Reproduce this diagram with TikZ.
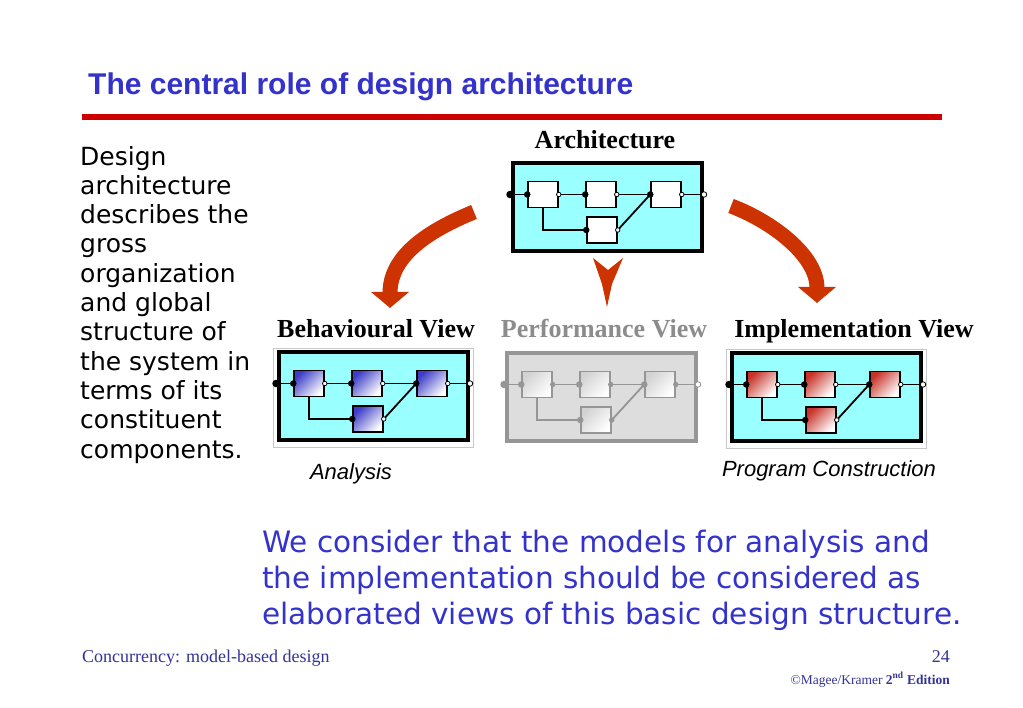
\documentclass[tikz,border=0pt]{standalone}
\usepackage{fontspec}
\setmainfont{Liberation Serif}
\newfontfamily\arialfont{Liberation Sans}
\newfontfamily\comicfont{DejaVu Sans}
\usetikzlibrary{arrows.meta}
\definecolor{TitleBlue}{RGB}{51,51,204}
\definecolor{RuleRed}{RGB}{204,0,0}
\definecolor{ArrowRed}{RGB}{204,51,0}
\definecolor{BoxCyan}{RGB}{153,255,255}
\definecolor{PerfGrey}{RGB}{221,221,221}
\definecolor{PerfInk}{RGB}{150,150,150}
\definecolor{CompBlue}{RGB}{60,60,200}
\definecolor{CompRed}{RGB}{200,50,40}
\definecolor{FootBlue}{RGB}{51,51,153}
\definecolor{FrameGrey}{RGB}{200,200,200}

\begin{document}
\begin{tikzpicture}[
  x=1pt,y=-1pt,
  viewbox/.style = {draw=\ink,fill=\fil,line width=4pt,minimum width=189pt,minimum height=88pt,inner sep=0pt},
  comp/.style = {draw=\ink,line width=1.5pt,minimum width=30pt,minimum height=26pt,inner sep=0pt,
                 top color=\shadecol,bottom color=white,shading angle=45},
  wire/.style = {draw=\ink,line width=1.8pt},
  inpin/.style = {circle,fill=\ink,inner sep=0pt,minimum size=6.5pt},
  outpin/.style = {circle,draw=\ink,fill=\hole,line width=0.8pt,inner sep=0pt,minimum size=4.5pt},
  viewlabel/.style = {font=\bfseries\fontsize{26}{30}\selectfont,anchor=base,inner sep=0pt},
  uselabel/.style = {font=\arialfont\itshape\fontsize{22}{26}\selectfont,anchor=base,inner sep=0pt},
  bigarrow/.style = {draw=ArrowRed,line width=15pt,-{Triangle[width=37pt,length=16pt]}}
  ]
  \useasboundingbox[fill=white] (0,0) rectangle (1023,708);
  % heading
  \node[font=\arialfont\bfseries\fontsize{30}{36}\selectfont,text=TitleBlue,anchor=base west,inner sep=0pt]
    (title) at (88,95) {The central role of design architecture};
  \coordinate (rule-l) at (82,117);
  \coordinate (rule-r) at (942,117);
  \draw[RuleRed,line width=6pt] (rule-l) -- (rule-r);
  %
  \node[font=\comicfont\fontsize{25}{29.3}\selectfont,align=left,anchor=base west,inner sep=0pt]
    (intro) at (80,458) {Design\\architecture\\describes the\\gross\\organization\\and global\\structure of\\the system in\\terms of its\\constituent\\components.};
  % architecture and its three views
  \foreach \n/\bx/\by/\fil/\ink/\shadecol/\hole/\frm in {%
      A/511/162/BoxCyan/black/white/white/none,
      B/277/351/BoxCyan/black/CompBlue/white/FrameGrey,
      P/505/352/PerfGrey/PerfInk/gray!35/PerfInk/none,
      I/730/352/BoxCyan/black/CompRed/white/FrameGrey} {
    \begin{scope}[shift={(\bx,\by)}]
      \draw[draw=\frm,line width=0.8pt] (-4,-3) rectangle (196,96);
      \node[viewbox] (\n-box) at (96,45.5) {};
      \node[comp] (\n1) at (32,32.5) {};
      \node[comp] (\n2) at (90,32.5) {};
      \node[comp] (\n3) at (155,32.5) {};
      \node[comp] (\n4) at (91,68) {};
      \node[inpin,minimum size=7.5pt] (\n-in) at (-1,32.5) {};
      \node[outpin,fill=white,minimum size=5.5pt] (\n-out) at (193,32.5) {};
      \draw[wire] (\n-in) -- (\n1);
      \draw[wire] (\n1) -- (\n2);
      \draw[wire] (\n2) -- (\n3);
      \draw[wire] (\n3) -- (\n-out);
      \draw[wire] (\n1) |- (\n4);
      \draw[wire] (\n4.east) -- (\n3.west);
      \foreach \c in {1,...,4} {
        \node[inpin] at (\n\c.west) {};
        \node[outpin] at (\n\c.east) {};
      }
    \end{scope}
  }
  \node[viewlabel] (arch-label) at (605,149) {Architecture};
  \node[viewlabel] (beh-label) at (376,338) {Behavioural View};
  \node[viewlabel,text=gray!90] (perf-label) at (604,338) {Performance View};
  \node[viewlabel] (impl-label) at (854,338) {Implementation View};
  \node[uselabel] (beh-use) at (351,479) {Analysis};
  \node[uselabel] (impl-use) at (829,476) {Program Construction};
  % red arrows
  \coordinate (beh-tail) at (474,212);
  \coordinate (beh-tip) at (390,308);
  \coordinate (impl-tail) at (731,206);
  \coordinate (impl-tip) at (817,303);
  \draw[bigarrow] (beh-tail) .. controls (430,230) and (390,255) .. (beh-tip);
  \draw[bigarrow] (impl-tail) .. controls (771,221) and (817,255) .. (impl-tip);
  \fill[ArrowRed] (593,258) -- (608,270) -- (623,258) -- (612,284) -- (607,307) -- (602,284) -- cycle;
  %
  \node[font=\comicfont\fontsize{29.5}{36}\selectfont,text=TitleBlue,align=left,anchor=base west,inner sep=0pt]
    (remark) at (262,624) {We consider that the models for analysis and\\the implementation should be considered as\\elaborated views of this basic design structure.};
  % footer
  \node[font=\fontsize{18}{22}\selectfont,text=FootBlue,anchor=base west,inner sep=0pt]
    (foot) at (82,662) {Concurrency: model-based design};
  \node[font=\fontsize{18}{22}\selectfont,text=FootBlue,anchor=base east,inner sep=0pt]
    (page) at (950,662) {24};
  \node[font=\fontsize{13.5}{16}\selectfont,text=FootBlue,anchor=base east,inner sep=0pt]
    (credit) at (950,684) {\textcopyright Magee/Kramer \textbf{2\textsuperscript{nd} Edition}};
\end{tikzpicture}
\end{document}
